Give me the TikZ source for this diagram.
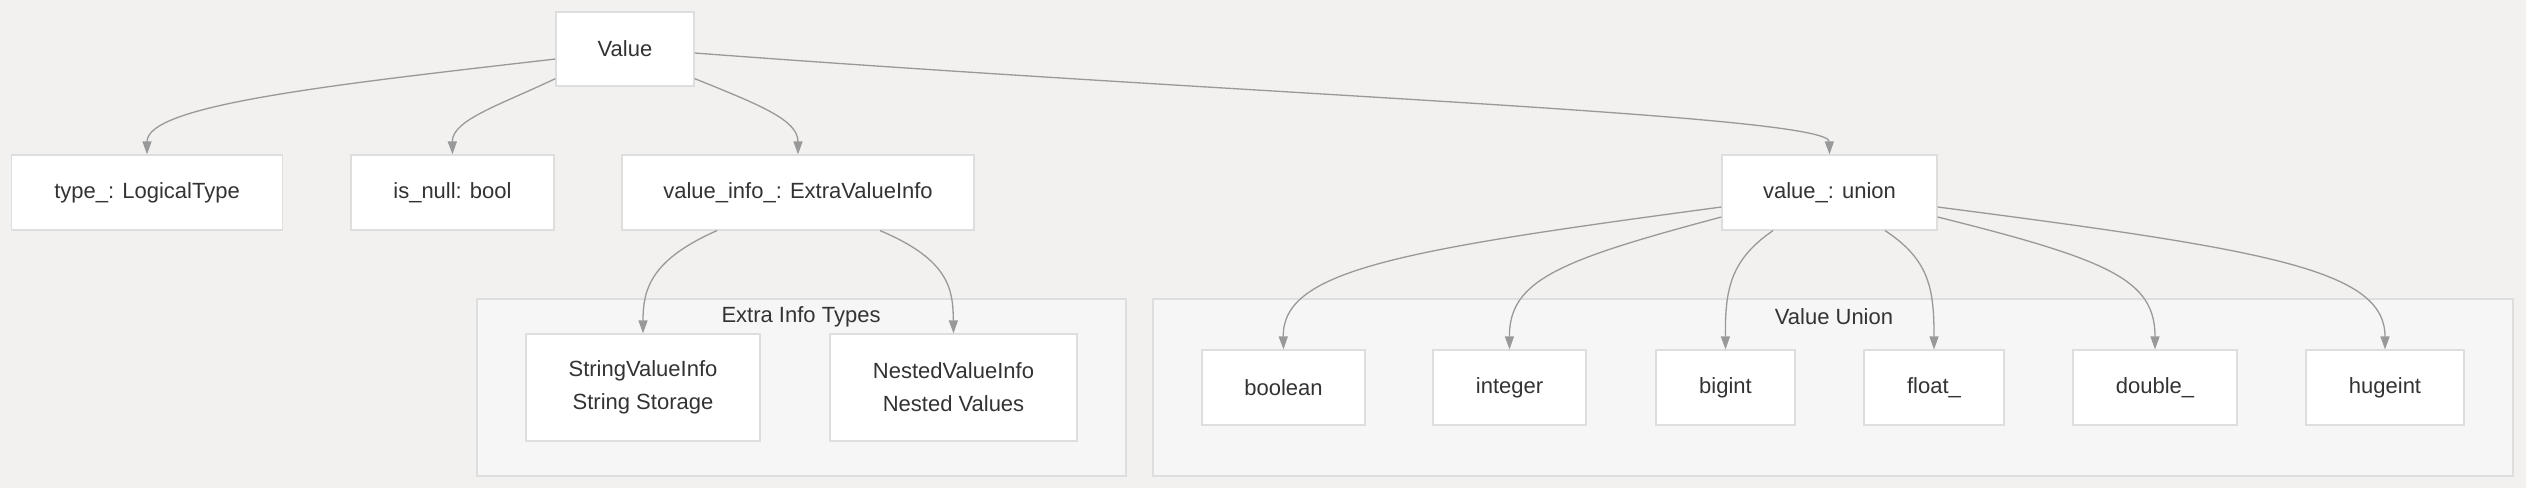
\documentclass[tikz,border=0pt]{standalone}
\usepackage{fontspec}
\setmainfont{Liberation Sans}
\usetikzlibrary{arrows.meta}

\definecolor{bg}{RGB}{242,241,240}
\definecolor{grpfill}{RGB}{246,246,246}
\definecolor{line}{RGB}{222,222,222}
\definecolor{arrowgray}{RGB}{153,153,153}
\definecolor{txt}{RGB}{51,51,51}

\begin{document}
\begin{tikzpicture}[x=1pt,y=-1pt,
    box/.style={draw=line,line width=1.2pt,fill=white,text=txt,inner sep=0pt,
      font=\fontsize{22}{33}\selectfont,align=center},
    grp/.style={draw=line,line width=1.2pt,fill=grpfill,inner sep=0pt},
    title/.style={text=txt,font=\fontsize{22}{26}\selectfont},
    link/.style={draw=arrowgray,line width=1.3pt,-{Triangle[length=13pt,width=9pt]}}]
  \useasboundingbox[fill=bg] (0,0) rectangle (2526,488);

  % groups
  \node[grp,minimum width=649pt,minimum height=177pt] (extra) at (801.5,387.5) {};
  \node[grp,minimum width=1360pt,minimum height=177pt] (vunion) at (1833,387.5) {};
  \node[title] (extratitle) at (801,317) {Extra Info Types};
  \node[title] (uniontitle) at (1834,317) {Value Union};

  % top levels
  \node[box,minimum width=138pt,minimum height=74pt] (val) at (625,49) {Value};
  \node[box,minimum width=271pt,minimum height=75pt] (type) at (147,192.5) {type\_: LogicalType};
  \node[box,minimum width=203pt,minimum height=75pt] (isnull) at (452.5,192.5) {is\_null: bool};
  \node[box,minimum width=352pt,minimum height=75pt] (info) at (798,192.5) {value\_info\_: ExtraValueInfo};
  \node[box,minimum width=215pt,minimum height=75pt] (union) at (1829.5,192.5) {value\_: union};

  % extra info types
  \node[box,minimum width=234pt,minimum height=107pt] (svi) at (643,387.5) {StringValueInfo\\String Storage};
  \node[box,minimum width=247pt,minimum height=107pt] (nvi) at (953.5,387.5) {NestedValueInfo\\Nested Values};

  % union members
  \node[box,minimum width=163pt,minimum height=75pt] (bool) at (1283.5,387.5) {boolean};
  \node[box,minimum width=153pt,minimum height=75pt] (int) at (1509.5,387.5) {integer};
  \node[box,minimum width=139pt,minimum height=75pt] (big) at (1725.5,387.5) {bigint};
  \node[box,minimum width=140pt,minimum height=75pt] (flt) at (1934,387.5) {float\_};
  \node[box,minimum width=164pt,minimum height=75pt] (dbl) at (2155,387.5) {double\_};
  \node[box,minimum width=158pt,minimum height=75pt] (huge) at (2385,387.5) {hugeint};

  \draw[link] ([yshift=-10pt]val.west) .. controls (330,85) and (147,105) .. (type.north);
  \draw[link] ([yshift=8pt]val.south west) .. controls (500,105) and (452,120) .. (isnull.north);
  \draw[link] ([yshift=8pt]val.south east) .. controls (760,105) and (798,120) .. (info.north);
  \draw[link] ([yshift=-4pt]val.east) .. controls (1250,95) and (1829,115) .. (union.north);

  \draw[link] ([xshift=-81pt]info.south) .. controls (650,260) and (643,290) .. (svi.north);
  \draw[link] ([xshift=82pt]info.south) .. controls (950,260) and (953,290) .. (nvi.north);

  \draw[link] ([yshift=-14.5pt]union.west) .. controls (1400,250) and (1282,270) .. (bool.north);
  \draw[link] ([yshift=-24.5pt]union.west) .. controls (1560,260) and (1509,280) .. (int.north);
  \draw[link] ([xshift=-56.5pt]union.south) .. controls (1730,260) and (1725,290) .. (big.north);
  \draw[link] ([xshift=55.5pt]union.south) .. controls (1930,260) and (1934,290) .. (flt.north);
  \draw[link] ([yshift=-24.5pt]union.east) .. controls (2110,260) and (2155,280) .. (dbl.north);
  \draw[link] ([yshift=-14.5pt]union.east) .. controls (2270,250) and (2385,270) .. (huge.north);
\end{tikzpicture}
\end{document}
